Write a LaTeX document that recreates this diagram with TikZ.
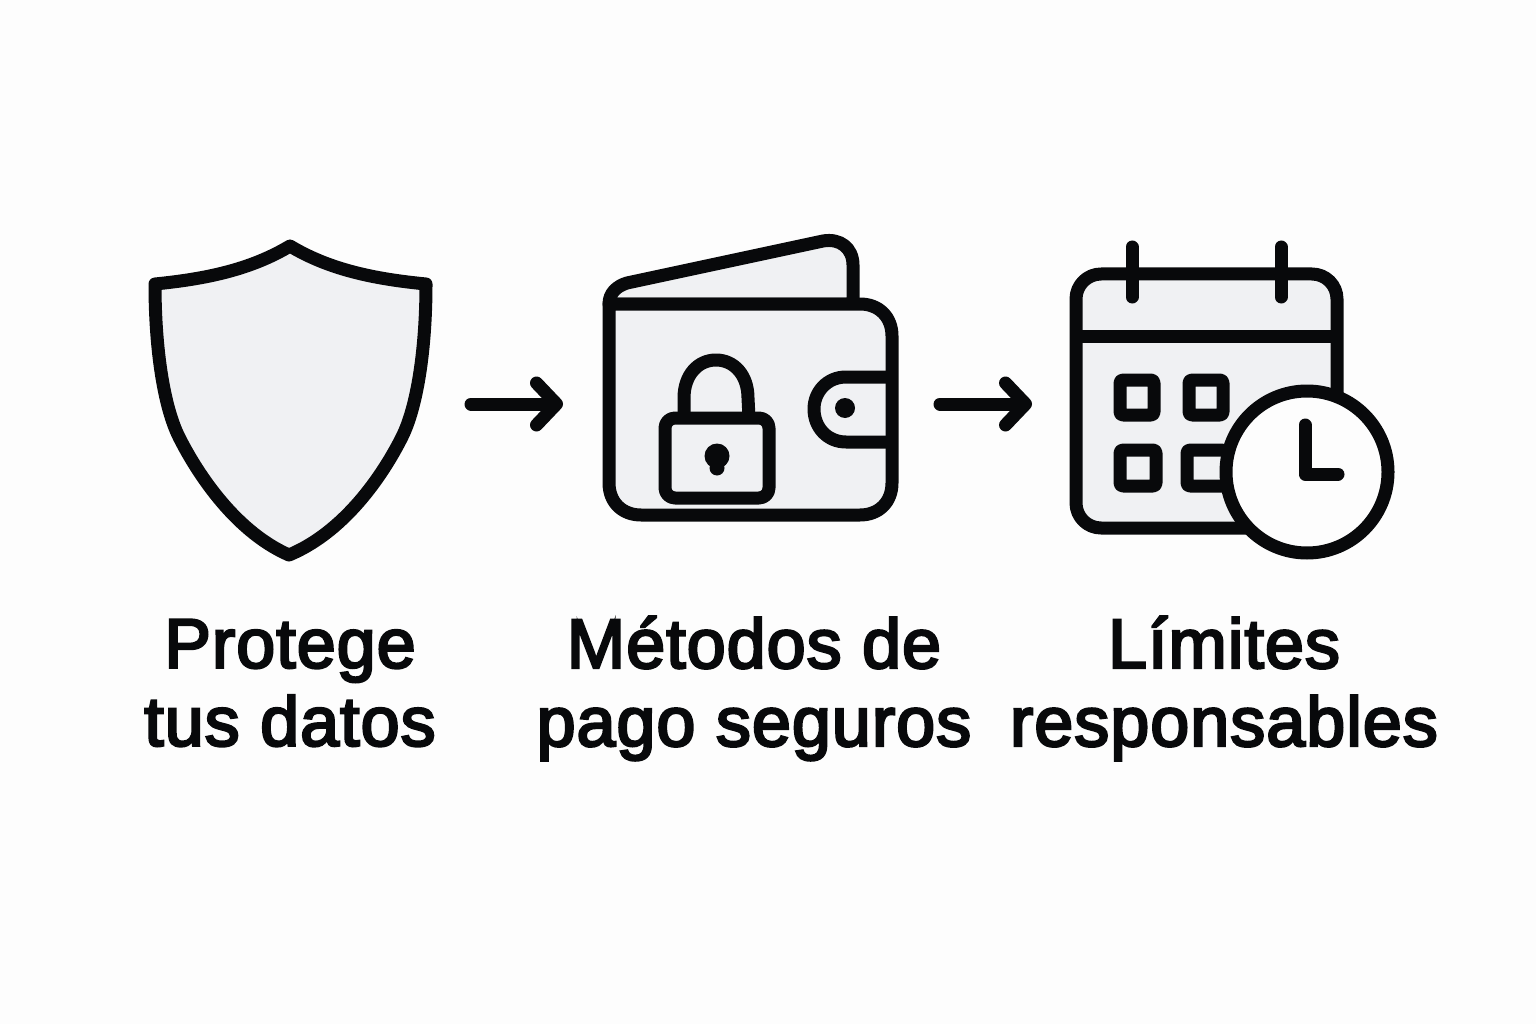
\documentclass[tikz,border=0pt]{standalone}
\usepackage{fontspec}
\usepackage{tikz}
\usetikzlibrary{arrows.meta}
\newfontfamily\labelfont[FakeBold=3.5, LetterSpace=1.5]{Liberation Sans}
\definecolor{ink}{HTML}{08090B}
\definecolor{iconfill}{HTML}{F0F1F3}
\definecolor{paper}{HTML}{FDFDFD}
\tikzset{outline/.style={draw=ink, line width=13pt, line join=round, line cap=round}}
\tikzset{filled/.style={outline, fill=iconfill}}
\tikzset{flow/.style={outline, -{Straight Barb[round, length=20pt, width=42pt, line width=13pt]}}}
\tikzset{caption/.style={font=\labelfont\fontsize{70}{78}\selectfont, text=ink, align=center, inner sep=0pt}}

\begin{document}
\begin{tikzpicture}[x=1pt, y=-1pt]
	\useasboundingbox (0,0) rectangle (1536,1024);
	\fill[paper] (0,0) rectangle (1536,1024);

	% Shield
	\draw[filled] (290,246) .. controls (250,270) and (205,279) .. (155,284)
		.. controls (155,350) and (164,407) .. (179,437)
		.. controls (194,467) and (232,530) .. (289,555)
		.. controls (349,530) and (387,467) .. (402,437)
		.. controls (417,407) and (426,350) .. (426,284)
		.. controls (375,279) and (330,270) .. (290,246) -- cycle;

	% Wallet flap and body
	\draw[filled] (609,304) .. controls (609,293) and (617,286) .. (627,283) -- (823,241)
		.. controls (840,238) and (853,248) .. (853,265) -- (853,304) -- cycle;
	\draw[filled] (609,304) -- (860,304) .. controls (879,304) and (892,317) .. (892,336)
		-- (892,483) .. controls (892,502) and (879,515) .. (860,515)
		-- (641,515) .. controls (622,515) and (609,502) .. (609,483) -- cycle;
	\draw[outline, line cap=butt] (892,377) -- (846,377) .. controls (827,377) and (814,392) .. (814,409)
		.. controls (814,427) and (827,442) .. (846,442) -- (892,442);
	\fill[ink] (845,408) circle (10);

	% Lock
	\draw[outline, line cap=butt] (684,418) -- (684,398) .. controls (684,375) and (698,360) .. (716,360)
		.. controls (734,360) and (748,375) .. (748,398) -- (749,418);
	\draw[filled, rounded corners=10pt] (665,418) rectangle (769,498);
	\fill[ink] (717,456) circle (12.5);
	\fill[ink] (717,468) circle (7.5);

	% Calendar
	\draw[filled, rounded corners=25pt] (1076,274) rectangle (1337,528);
	\draw[outline, line cap=butt] (1076,336) -- (1337,336);
	\draw[outline] (1132,247) -- (1132,297);
	\draw[outline] (1281,247) -- (1281,297);
	\draw[outline, rounded corners=3pt] (1120,380) rectangle (1154,415);
	\draw[outline, rounded corners=3pt] (1189,380) rectangle (1223,415);
	\draw[outline, rounded corners=3pt] (1120,450) rectangle (1156,486);
	\draw[outline, rounded corners=3pt] (1222,450) -- (1187,450) -- (1187,486) -- (1222,486);

	% Clock
	\draw[outline, fill=paper] (1307,472) circle (81);
	\draw[outline] (1305,425) -- (1305,474) -- (1338,474);

	% Arrows
	\coordinate (firststart) at (471,404);
	\coordinate (firstend) at (563,404);
	\coordinate (secondstart) at (940,404);
	\coordinate (secondend) at (1032,404);
	\draw[flow] (firststart) -- (firstend);
	\draw[flow] (secondstart) -- (secondend);

	% Captions
	\node[caption] (shieldtext) at (290,683) {Protege\\tus datos};
	\node[caption] (wallettext) at (754,688.5) {Métodos de\\pago seguros};
	\node[caption] (calendartext) at (1224,688.5) {Límites\\responsables};
\end{tikzpicture}
\end{document}
